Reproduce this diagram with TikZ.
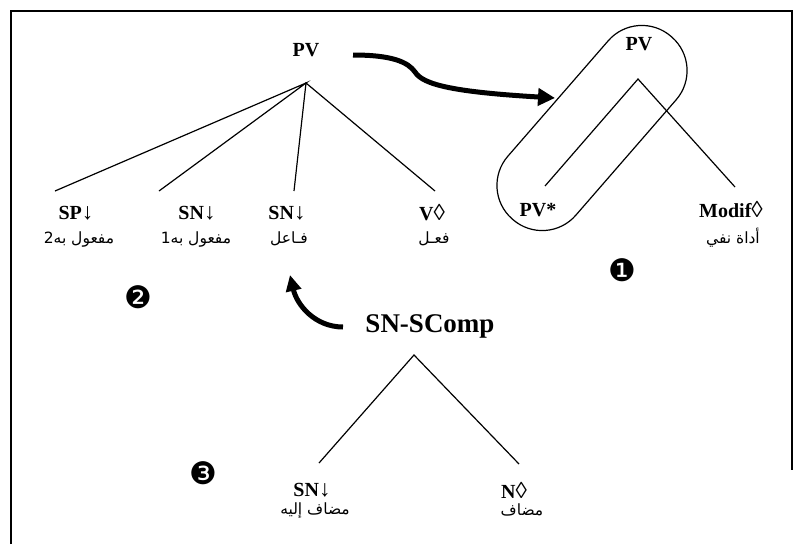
\documentclass[tikz,border=0pt]{standalone}
\usepackage{fontspec}
\setmainfont{Liberation Serif}
\newfontfamily\arabicfont[Script=Arabic]{DejaVu Sans}
\newfontfamily\dingfont{DejaVu Sans}
\usetikzlibrary{arrows.meta}
\TeXXeTstate=1
\begin{document}
\begin{tikzpicture}[x=1pt,y=-1pt,
  lab/.style={font=\bfseries\fontsize{20}{20}\selectfont, inner sep=0pt},
  big/.style={font=\bfseries\fontsize{27}{27}\selectfont, inner sep=0pt},
  ar/.style={font=\arabicfont\fontsize{15.5}{15.5}\selectfont, inner sep=0pt},
  num/.style={font=\dingfont\fontsize{31}{31}\selectfont, inner sep=0pt},
  branch/.style={line width=1.2pt},
  bigarrow/.style={line width=5pt, -{Triangle[length=17pt,width=17pt]}}]
\useasboundingbox (0,0) rectangle (802,544);
% frame
\draw[line width=2pt] (11,544) -- (11,11) -- (792,11) -- (792,470);

% ---- tree 2 (PV) ----
\node[lab] (pvL) at (306,50) {PV};
\coordinate (apL) at (306,83);
\coordinate (e1) at (55,191);
\coordinate (e2) at (159,191);
\coordinate (e3) at (294,191);
\coordinate (e4) at (435,191);
\draw[branch] (e1) -- (apL) -- (e2);
\draw[branch] (e3) -- (apL) -- (e4);
\node[lab] (sp) at (76,213) {SP{\fontsize{23}{23}\selectfont↓}};
\node[lab] (sn1) at (197,213) {SN{\fontsize{23}{23}\selectfont↓}};
\node[lab] (sn0) at (287,213) {SN{\fontsize{23}{23}\selectfont↓}};
\node[lab] (v) at (432,213) {V{\fontsize{23}{23}\selectfont◊}};
\node[ar] (a1) at (79,239) {\beginR مفعول به2\endR};
\node[ar] (a2) at (196,239) {\beginR مفعول به1\endR};
\node[ar] (a3) at (289,239) {\beginR فـاعل\endR};
\node[ar] (a4) at (434,239) {\beginR فعـل\endR};
\node[num] (n2) at (138,297) {❷};

% ---- tree 1 ----
\node[lab] (pvR) at (639,44) {PV};
\coordinate (apR) at (638,79);
\coordinate (r1) at (545,186);
\coordinate (r2) at (735,187);
\draw[branch] (r1) -- (apR) -- (r2);
\node[lab] (pvs) at (538,210) {PV*};
\node[lab] (mod) at (731,210) {Modif{\fontsize{23}{23}\selectfont◊}};
\node[ar] (a5) at (733,238) {\beginR أداة نفي\endR};
\node[num] (n1) at (622,270) {❶};
\begin{scope}[shift={(592,128)}, rotate=49]
  \draw[line width=1.2pt, rounded corners=44.5pt] (-121,-45) rectangle (121,45);
\end{scope}

% ---- tree 3 ----
\node[big] (sc) at (430,326) {SN-SComp};
\coordinate (apS) at (414,355);
\coordinate (s1) at (319,463);
\coordinate (s2) at (519,464);
\draw[branch] (s1) -- (apS) -- (s2);
\node[lab] (snA) at (312,490) {SN{\fontsize{23}{23}\selectfont↓}};
\node[lab] (nB) at (514,490) {N{\fontsize{23}{23}\selectfont◊}};
\node[ar] (a6) at (315,510) {\beginR مضاف إليه\endR};
\node[ar] (a7) at (522,510) {\beginR مضاف\endR};
\node[num] (n3) at (203,473) {❸};

% ---- arrows ----
\coordinate (st1) at (353,55);
\coordinate (tip1) at (555,98);
\draw[bigarrow] (st1) .. controls (392,55) and (408,62) .. (415,72)
   .. controls (423,85) and (455,92) .. (tip1);
\coordinate (st2) at (343,327);
\coordinate (tip2) at (290,275);
\draw[bigarrow, -{Triangle[length=16pt,width=15pt]}] (st2) .. controls (315,327) and (297,305) .. (tip2);
\end{tikzpicture}
\end{document}
